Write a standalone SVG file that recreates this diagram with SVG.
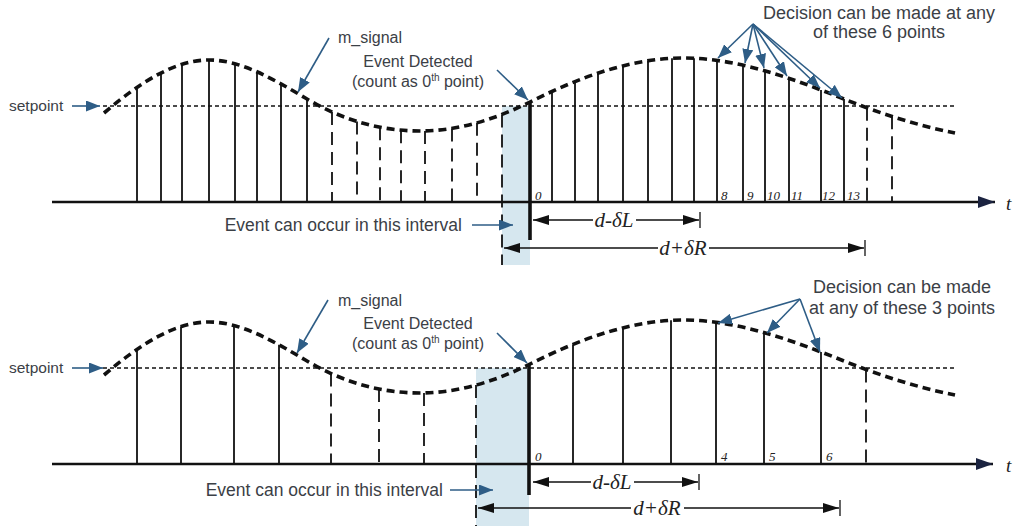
<svg xmlns="http://www.w3.org/2000/svg" width="1017" height="526" viewBox="0 0 1017 526">
<style>
.lbl{font-family:"Liberation Sans",Arial,sans-serif;fill:#3b4046}
.math{font-family:"Liberation Serif","Times New Roman",serif;font-style:italic;fill:#222}
.num{font-family:"Liberation Serif","Times New Roman",serif;font-style:italic;font-size:13px;fill:#222}
.curve{fill:none;stroke:#111;stroke-width:3.6;stroke-dasharray:8 5}
.sp{fill:none;stroke:#111;stroke-width:1.5;stroke-dasharray:4 3}
.stem{stroke:#111;stroke-width:1.8}
.dstem{stroke:#111;stroke-width:1.8;stroke-dasharray:13 7}
.axis{stroke:#111;stroke-width:2.5;fill:none}
.ev{stroke:#111;stroke-width:3.6}
.blue{stroke:#2e5d86;stroke-width:1.6;fill:none;marker-end:url(#ba)}
.dim{stroke:#111;stroke-width:1.3;fill:none;marker-end:url(#ka)}
.tick{stroke:#111;stroke-width:1.3}
.band{fill:#d6e7ef}
</style>
<defs>
<marker id="ba" markerUnits="userSpaceOnUse" markerWidth="15" markerHeight="11" refX="14" refY="5.5" orient="auto"><path d="M0,0 L14,5.5 L0,11 z" fill="#2e5d86"/></marker>
<marker id="ka" markerUnits="userSpaceOnUse" markerWidth="17" markerHeight="11" refX="16" refY="5.5" orient="auto"><path d="M0,0.5 L16,5.5 L0,10.5 z" fill="#111"/></marker>
<marker id="ax" markerUnits="userSpaceOnUse" markerWidth="18" markerHeight="12" refX="17" refY="6" orient="auto"><path d="M0,0 L17,6 L0,12 z" fill="#1b2340"/></marker>
<path id="sig" d="M104,113 C139,83.25 174,60 209,60 C241.7,60 274.3,79.7 307,99 C344.7,121.2 382.3,131 420,131 C456.7,131 493.3,120.3 530,102 C581,76.5 632,58 683,58 C736.7,58 790.3,77.5 844,99 C881,113.8 918,125.6 955,133"/>
</defs>

<!-- ===== TOP PANEL ===== -->
<g id="top-interval">
<rect class="band" x="502" y="106" width="28" height="159"/>
</g>
<g id="top-axis">
<line class="axis" x1="52" y1="202" x2="995" y2="202" marker-end="url(#ax)"/>
<text class="math" x="1006" y="210" font-size="19">t</text>
</g>
<g id="top-setpoint">
<line class="sp" x1="103" y1="106" x2="955" y2="106"/>
</g>
<g id="top-stems">
<line class="stem" x1="137" y1="202" x2="137" y2="87.4"/>
<line class="stem" x1="161" y1="202" x2="161" y2="73"/>
<line class="stem" x1="182" y1="202" x2="182" y2="64.3"/>
<line class="stem" x1="209" y1="202" x2="209" y2="60"/>
<line class="stem" x1="235" y1="202" x2="235" y2="63.8"/>
<line class="stem" x1="257" y1="202" x2="257" y2="71.8"/>
<line class="stem" x1="281" y1="202" x2="281" y2="83.9"/>
<line class="stem" x1="307" y1="202" x2="307" y2="99"/>
<line class="dstem" x1="332" y1="112" x2="332" y2="202"/>
<line class="dstem" x1="357" y1="121.4" x2="357" y2="202"/>
<line class="dstem" x1="380" y1="127.2" x2="380" y2="202"/>
<line class="dstem" x1="401" y1="130.2" x2="401" y2="202"/>
<line class="dstem" x1="425" y1="131" x2="425" y2="202"/>
<line class="dstem" x1="452" y1="128.4" x2="452" y2="202"/>
<line class="dstem" x1="477" y1="122.8" x2="477" y2="202"/>
<line class="dstem" x1="502" y1="114.5" x2="502" y2="265"/>
<line class="ev" x1="530" y1="102" x2="530" y2="240"/>
<line class="stem" x1="552" y1="202" x2="552" y2="91.5"/>
<line class="stem" x1="575" y1="202" x2="575" y2="81.6"/>
<line class="stem" x1="598" y1="202" x2="598" y2="73.2"/>
<line class="stem" x1="623" y1="202" x2="623" y2="65.8"/>
<line class="stem" x1="648" y1="202" x2="648" y2="60.8"/>
<line class="stem" x1="672" y1="202" x2="672" y2="58.3"/>
<line class="stem" x1="694" y1="202" x2="694" y2="58.3"/>
<line class="stem" x1="717" y1="202" x2="717" y2="60.4"/>
<line class="stem" x1="743" y1="202" x2="743" y2="65.2"/>
<line class="stem" x1="765" y1="202" x2="765" y2="70.8"/>
<line class="stem" x1="789" y1="202" x2="789" y2="78.3"/>
<line class="stem" x1="821" y1="202" x2="821" y2="89.9"/>
<line class="stem" x1="844" y1="202" x2="844" y2="99"/>
<line class="dstem" x1="867" y1="107.8" x2="867" y2="202"/>
<line class="dstem" x1="892" y1="116.3" x2="892" y2="202"/>
</g>
<g id="top-signal">
<use href="#sig" class="curve"/>
</g>
<g id="top-numbers">
<text class="num" x="535" y="200">0</text>
<text class="num" x="721" y="200">8</text>
<text class="num" x="747" y="200">9</text>
<text class="num" x="767" y="200">10</text>
<text class="num" x="791" y="200">11</text>
<text class="num" x="822" y="200">12</text>
<text class="num" x="847" y="200">13</text>
</g>
<g id="top-labels">
<text class="lbl" x="9" y="111" font-size="15.5">setpoint</text>
<text class="lbl" x="338" y="43" font-size="16">m_signal</text>
<text class="lbl" x="418" y="67" font-size="16" text-anchor="middle">Event Detected</text>
<text class="lbl" x="418" y="87" font-size="16" text-anchor="middle">(count as 0<tspan font-size="10" dy="-6">th</tspan><tspan dy="6"> point)</tspan></text>
<text class="lbl" x="462" y="231" font-size="17.5" text-anchor="end">Event can occur in this interval</text>
<text class="lbl" x="879" y="19" font-size="18" text-anchor="middle">Decision can be made at any</text>
<text class="lbl" x="879" y="38" font-size="18" text-anchor="middle">of these 6 points</text>
</g>
<g id="top-dimensions">
<text class="math" x="614" y="227" font-size="21" text-anchor="middle">d-δL</text>
<line class="dim" x1="593" y1="220" x2="533" y2="220"/>
<line class="dim" x1="636" y1="220" x2="699" y2="220"/>
<line class="tick" x1="700" y1="212" x2="700" y2="228"/>
<text class="math" x="683" y="255" font-size="21" text-anchor="middle">d+δR</text>
<line class="dim" x1="658" y1="248" x2="504" y2="248"/>
<line class="dim" x1="709" y1="248" x2="864" y2="248"/>
<line class="tick" x1="865" y1="240" x2="865" y2="256"/>
</g>

<!-- ===== BOTTOM PANEL ===== -->
<g id="bottom-interval">
<rect class="band" x="476" y="368" width="53" height="158"/>
</g>
<g id="bottom-axis">
<line class="axis" x1="52" y1="464" x2="993" y2="464" marker-end="url(#ax)"/>
<text class="math" x="1006" y="472" font-size="19">t</text>
</g>
<g id="bottom-setpoint">
<line class="sp" x1="103" y1="368" x2="955" y2="368"/>
</g>
<g id="bottom-stems">
<line class="stem" x1="137" y1="464" x2="137" y2="349.4"/>
<line class="stem" x1="181" y1="464" x2="181" y2="326.6"/>
<line class="stem" x1="234" y1="464" x2="234" y2="325.6"/>
<line class="stem" x1="279" y1="464" x2="279" y2="344.8"/>
<line class="dstem" x1="331" y1="373.5" x2="331" y2="464"/>
<line class="dstem" x1="379" y1="389" x2="379" y2="464"/>
<line class="dstem" x1="424" y1="393" x2="424" y2="464"/>
<line class="dstem" x1="476" y1="385" x2="476" y2="526"/>
<line class="ev" x1="529" y1="364.5" x2="529" y2="495"/>
<line class="stem" x1="573" y1="464" x2="573" y2="344.4"/>
<line class="stem" x1="623" y1="464" x2="623" y2="327.8"/>
<line class="stem" x1="671" y1="464" x2="671" y2="320.3"/>
<line class="stem" x1="716" y1="464" x2="716" y2="322.3"/>
<line class="stem" x1="764" y1="464" x2="764" y2="332.6"/>
<line class="stem" x1="821" y1="464" x2="821" y2="351.9"/>
<line class="dstem" x1="866" y1="369.4" x2="866" y2="464"/>
</g>
<g id="bottom-signal">
<use href="#sig" class="curve" transform="translate(0,262)"/>
</g>
<g id="bottom-numbers">
<text class="num" x="535" y="461">0</text>
<text class="num" x="721" y="461">4</text>
<text class="num" x="769" y="461">5</text>
<text class="num" x="826" y="461">6</text>
</g>
<g id="bottom-labels">
<text class="lbl" x="9" y="373" font-size="15.5">setpoint</text>
<text class="lbl" x="338" y="306" font-size="16">m_signal</text>
<text class="lbl" x="418" y="329" font-size="16" text-anchor="middle">Event Detected</text>
<text class="lbl" x="418" y="349" font-size="16" text-anchor="middle">(count as 0<tspan font-size="10" dy="-6">th</tspan><tspan dy="6"> point)</tspan></text>
<text class="lbl" x="443" y="496" font-size="17.5" text-anchor="end">Event can occur in this interval</text>
<text class="lbl" x="902" y="293" font-size="18" text-anchor="middle">Decision can be made</text>
<text class="lbl" x="902" y="314" font-size="18" text-anchor="middle">at any of these 3 points</text>
</g>
<g id="bottom-dimensions">
<text class="math" x="612" y="489" font-size="21" text-anchor="middle">d-δL</text>
<line class="dim" x1="591" y1="482" x2="533" y2="482"/>
<line class="dim" x1="634" y1="482" x2="698" y2="482"/>
<line class="tick" x1="699" y1="474" x2="699" y2="490"/>
<text class="math" x="657" y="515" font-size="21" text-anchor="middle">d+δR</text>
<line class="dim" x1="631" y1="508" x2="478" y2="508"/>
<line class="dim" x1="684" y1="508" x2="839" y2="508"/>
<line class="tick" x1="840" y1="500" x2="840" y2="516"/>
</g>

<!-- ===== CONNECTORS (callout arrows) ===== -->
<g id="connectors">
<line class="blue" x1="72" y1="106" x2="100" y2="106"/>
<line class="blue" x1="329" y1="38" x2="298" y2="92"/>
<line class="blue" x1="497" y1="70" x2="528" y2="100"/>
<line class="blue" x1="472" y1="225" x2="513" y2="225"/>
<line class="blue" x1="753" y1="24" x2="718" y2="58"/>
<line class="blue" x1="753" y1="24" x2="745" y2="63"/>
<line class="blue" x1="753" y1="24" x2="764" y2="68"/>
<line class="blue" x1="753" y1="24" x2="787" y2="76"/>
<line class="blue" x1="753" y1="24" x2="820" y2="88"/>
<line class="blue" x1="753" y1="24" x2="842" y2="98"/>
<line class="blue" x1="72" y1="368" x2="103" y2="368"/>
<line class="blue" x1="328" y1="300" x2="297" y2="353"/>
<line class="blue" x1="497" y1="333" x2="527" y2="363"/>
<line class="blue" x1="450" y1="490" x2="493" y2="490"/>
<line class="blue" x1="800" y1="299" x2="718" y2="323"/>
<line class="blue" x1="800" y1="299" x2="767" y2="333"/>
<line class="blue" x1="800" y1="299" x2="820" y2="352"/>
</g>
</svg>
